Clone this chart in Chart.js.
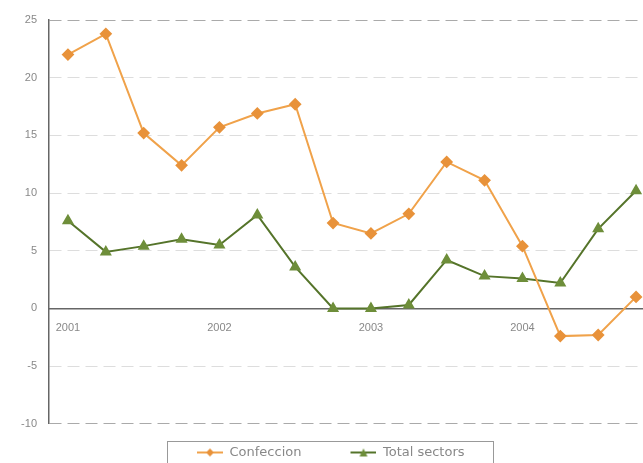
<!DOCTYPE html>
<html>
<head>
<meta charset="utf-8">
<script src="https://cdn.jsdelivr.net/npm/chart.js@4.4.0/dist/chart.umd.min.js"></script>
<style>
  html, body { margin: 0; padding: 0; background: #fff; overflow: hidden; }
  #wrap { width: 662px; height: 463px; }
</style>
</head>
<body>
<div id="wrap"><canvas id="chart1"></canvas></div>
<script>
// quarterly points, a year label on each first quarter
const xLabels = ['2001', '', '', '', '2002', '', '', '', '2003', '', '', '', '2004', '', '', ''];
const confeccion = [22.0, 23.8, 15.2, 12.4, 15.7, 16.9, 17.7, 7.4, 6.5, 8.2, 12.7, 11.1, 5.4, -2.4, -2.3, 1.0];
const totalSectors = [7.6, 4.9, 5.4, 6.0, 5.5, 8.1, 3.6, 0.0, 0.0, 0.3, 4.2, 2.8, 2.6, 2.2, 6.9, 10.2];
const seriesNames = ['Confeccion', 'Total sectors'];

const orange = '#f0a24a';
const orangeDark = '#e8923a';
const green = '#55742a';
const greenMark = '#6e8e3a';
const font = 'Liberation Sans, Arial, sans-serif';

// "line + marker" images for the legend, blank room on the left makes the gap between items
const ICON_W = 70;
const LINE_W = 26;
function legendIcon(color, markColor, style) {
    const c = document.createElement('canvas');
    c.width = ICON_W; c.height = 10;
    const ctx = c.getContext('2d');
    const x0 = ICON_W - LINE_W;
    ctx.strokeStyle = color;
    ctx.lineWidth = 2;
    ctx.beginPath(); ctx.moveTo(x0, 5); ctx.lineTo(ICON_W, 5); ctx.stroke();
    ctx.fillStyle = markColor;
    const cx = x0 + LINE_W / 2;
    ctx.beginPath();
    if (style === 'rectRot') {
        ctx.moveTo(cx, 1); ctx.lineTo(cx + 4, 5); ctx.lineTo(cx, 9); ctx.lineTo(cx - 4, 5);
    } else {
        ctx.moveTo(cx, 1); ctx.lineTo(cx + 4, 9); ctx.lineTo(cx - 4, 9);
    }
    ctx.closePath(); ctx.fill();
    return c;
}
const icons = [legendIcon(orange, orangeDark, 'rectRot'), legendIcon(green, greenMark, 'triangle')];

// move the legend so its first line starts near x=197 and sits a bit lower, then frame it
const legendBox = {
    id: 'legendBox',
    afterUpdate(chart) {
        const lg = chart.legend;
        if (!lg || !lg.legendHitBoxes.length) return;
        const dx = 197 - (lg.legendHitBoxes[0].left + ICON_W - LINE_W);
        const dy = 6;
        lg.left += dx;
        lg.right += dx;
        lg.top += dy;
        lg.bottom += dy;
        lg.legendHitBoxes.forEach(h => { h.left += dx; h.top += dy; });
    },
    afterDraw(chart) {
        const lg = chart.legend;
        if (!lg || !lg.legendHitBoxes.length) return;
        const hb = lg.legendHitBoxes;
        const left = hb[0].left + ICON_W - LINE_W - 30;
        const right = hb[hb.length - 1].left + hb[hb.length - 1].width + 28;
        const top = hb[0].top + hb[0].height / 2 - 12;
        const ctx = chart.ctx;
        ctx.save();
        ctx.strokeStyle = '#999';
        ctx.lineWidth = 1;
        ctx.strokeRect(Math.round(left) + 0.5, Math.round(top) + 0.5, Math.round(right - left), 40);
        ctx.restore();
    }
};

const chart1 = new Chart('chart1', {
    type: 'line',
    data: {
        labels: xLabels,
        datasets: [{
            label: seriesNames[0],
            data: confeccion,
            borderColor: orange,
            backgroundColor: orangeDark,
            borderWidth: 2,
            pointStyle: 'rectRot',
            pointRadius: 5,
            pointBorderColor: orangeDark,
            pointBackgroundColor: orangeDark,
            tension: 0
        }, {
            label: seriesNames[1],
            data: totalSectors,
            borderColor: green,
            backgroundColor: greenMark,
            borderWidth: 2,
            pointStyle: 'triangle',
            pointRadius: 5,
            pointBorderColor: greenMark,
            pointBackgroundColor: greenMark,
            tension: 0
        }]
    },
    options: {
        responsive: true,
        maintainAspectRatio: false,
        animation: false,
        layout: {padding: {top: 20, right: 0, bottom: 0, left: 0}},
        plugins: {
            legend: {
                display: true,
                position: 'bottom',
                title: {display: true, text: ' ', font: {size: 1}, padding: {top: 10, bottom: 0}},
                labels: {
                    font: {family: 'DejaVu Sans, sans-serif', size: 13},
                    color: '#888',
                    padding: 5,
                    boxHeight: 10,
                    usePointStyle: true,
                    pointStyleWidth: ICON_W,
                    generateLabels(chart) {
                        return chart.data.datasets.map((ds, i) => ({
                            text: ds.label,
                            datasetIndex: i,
                            pointStyle: icons[i],
                            fontColor: '#888',
                            strokeStyle: 'transparent',
                            fillStyle: 'transparent',
                            lineWidth: 0
                        }));
                    }
                }
            },
            tooltip: {enabled: false}
        },
        scales: {
            x: {
                position: {y: 0},
                offset: true,
                grid: {display: false, drawTicks: false},
                border: {display: true, color: '#666', width: 1.5},
                ticks: {
                    autoSkip: false,
                    maxRotation: 0,
                    padding: 13,
                    color: '#888',
                    font: {family: font, size: 11}
                }
            },
            y: {
                min: -10,
                max: 25,
                afterFit(scale) { scale.width = 49; },
                grid: {
                    color: (ctx) => ctx.tick && (ctx.tick.value === 25 || ctx.tick.value === -10) ? '#aaa' : '#ddd',
                    drawTicks: false
                },
                border: {display: true, color: '#666', width: 1.5, dash: [12, 6]},
                ticks: {
                    stepSize: 5,
                    padding: 12,
                    color: '#888',
                    font: {family: font, size: 11}
                }
            }
        }
    },
    plugins: [legendBox]
});
</script>
</body>
</html>
